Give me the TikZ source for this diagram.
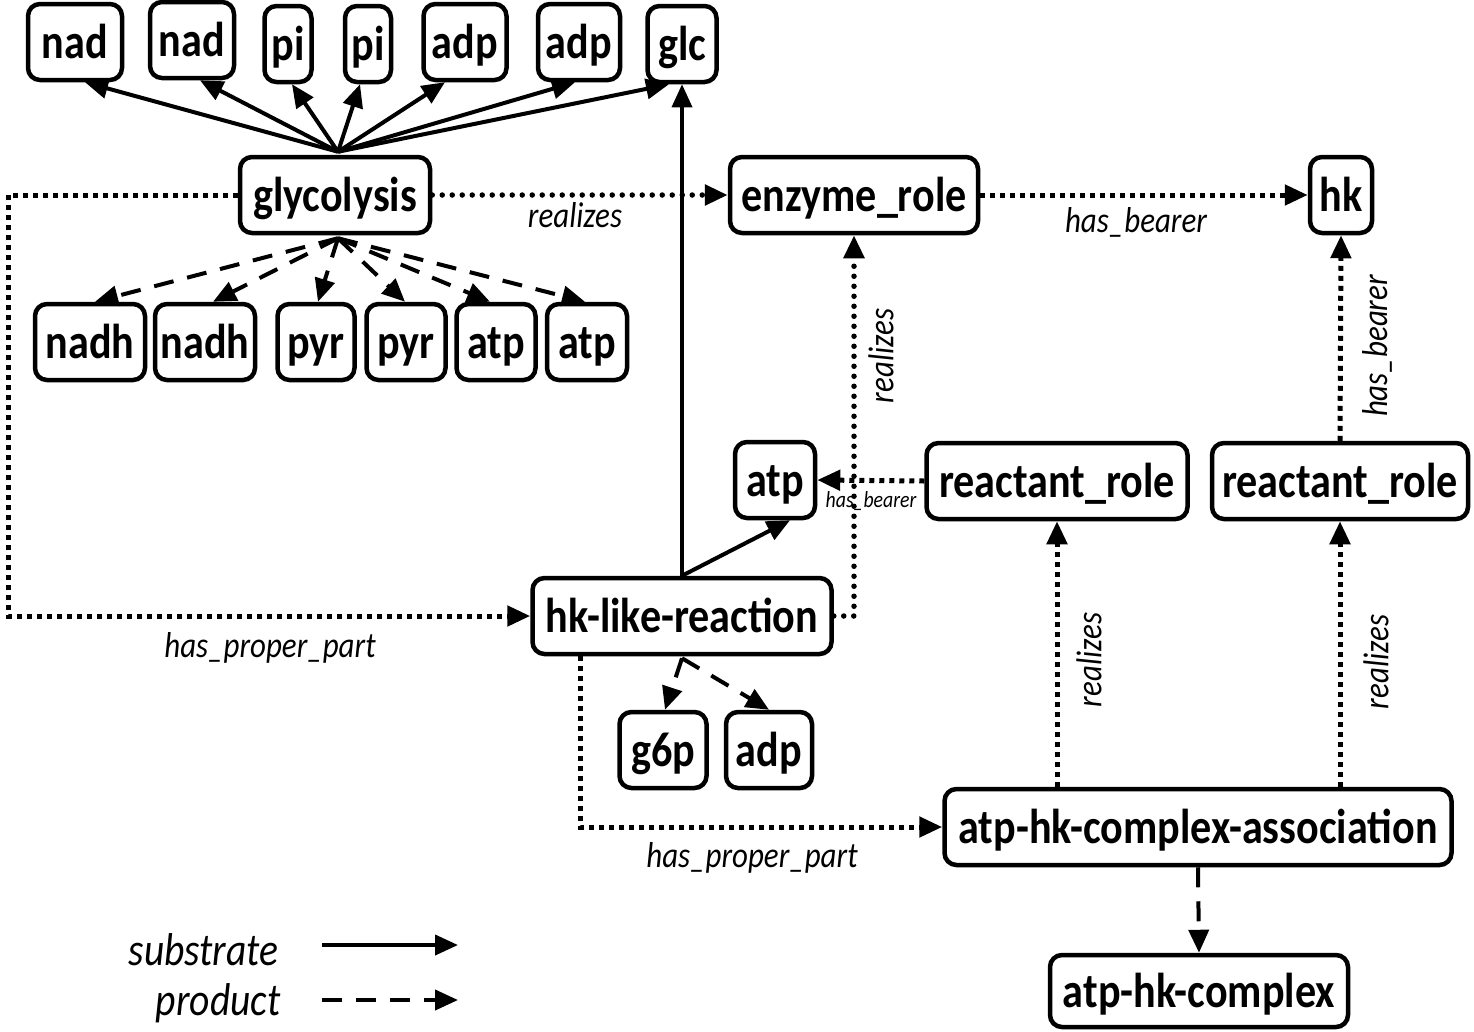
\documentclass[tikz,border=0pt]{standalone}
\usepackage{fontspec}
\setmainfont{Carlito}[FakeStretch=0.86]
\usetikzlibrary{arrows.meta,calc}
\begin{document}
\begin{tikzpicture}[x=1pt,y=-1pt,
  box/.style={draw,line width=4.5pt,rounded corners=12pt,
    font=\fontsize{49}{56}\selectfont\bfseries,
    inner xsep=3pt,inner ysep=0pt,minimum height=76pt,
    text height=38pt,text depth=5pt},
  lab/.style={font=\fontsize{36}{42}\selectfont\itshape,inner sep=1pt},
  slab/.style={font=\fontsize{23}{27}\selectfont\itshape,inner sep=1pt},
  leg/.style={font=\fontsize{46}{52}\selectfont\itshape,anchor=east},
  tip/.style={-{Triangle[length=23pt,width=20pt]}},
  sub/.style={tip,line width=4pt},
  prod/.style={tip,line width=4pt,dash pattern=on 20pt off 14pt},
  rdot/.style={tip,line width=5.5pt,dash pattern=on 0pt off 10pt,line cap=round},
  sdot/.style={tip,line width=5pt,dash pattern=on 5pt off 5pt},
]
\useasboundingbox (0,0) rectangle (1474,1031);

% top row
\node[box,minimum width=94pt] (nad1) at (75,42) {nad};
\node[box,minimum width=84pt] (nad2) at (192,40) {nad};
\node[box,minimum width=47pt] (pi1) at (288,44) {pi};
\node[box,minimum width=46pt] (pi2) at (368,44) {pi};
\node[box,minimum width=83pt] (adp1) at (465,42) {adp};
\node[box,minimum width=82pt] (adp2) at (579,42) {adp};
\node[box,minimum width=69pt] (glc) at (682,44) {glc};

\node[box,minimum width=190pt] (glyc) at (335,195) {glycolysis};
\node[box,minimum width=248pt] (enz) at (854,195) {enzyme\_role};
\node[box,minimum width=62pt] (hk) at (1341,195) {hk};

% product row
\node[box,minimum width=110pt] (nadh1) at (90,342) {nadh};
\node[box,minimum width=100pt] (nadh2) at (205,342) {nadh};
\node[box,minimum width=77pt] (pyr1) at (316,342) {pyr};
\node[box,minimum width=79pt] (pyr2) at (406,342) {pyr};
\node[box,minimum width=79pt] (atp1) at (496,342) {atp};
\node[box,minimum width=80pt] (atp2) at (587,342) {atp};

\node[box,minimum width=80pt] (atpm) at (775,480) {atp};
\node[box,minimum width=261pt] (rr1) at (1057,481) {reactant\_role};
\node[box,minimum width=256pt] (rr2) at (1340,481) {reactant\_role};

\node[box,minimum width=299pt] (hkr) at (682,616) {hk-like-reaction};
\node[box,minimum width=87pt] (g6p) at (663,750) {g6p};
\node[box,minimum width=86pt] (adp3) at (769,750) {adp};

\node[box,minimum width=507pt] (assoc) at (1198,827) {atp-hk-complex-association};
\node[box,minimum width=298pt,minimum height=72pt] (cplx) at (1199,991) {atp-hk-complex};

% glycolysis substrates
\coordinate (gtop) at ($(glyc.north)+(3,-3)$);
\draw[sub] (gtop) -- ($(nad1.south)+(10,0)$);
\draw[sub] (gtop) -- ($(nad2.south)+(8,0)$);
\draw[sub] (gtop) -- ($(pi1.south)+(4,0)$);
\draw[sub] (gtop) -- ($(pi2.south)+(-8,0)$);
\draw[sub] (gtop) -- ($(adp1.south)+(-20,0)$);
\draw[sub] (gtop) -- ($(adp2.south)+(-4,0)$);
\draw[sub] (gtop) -- ($(glc.south)+(-13,0)$);

% glycolysis products
\coordinate (gbot) at ($(glyc.south)+(3,3)$);
\draw[prod] (gbot) -- ($(nadh1.north)+(5,0)$);
\draw[prod] (gbot) -- ($(nadh2.north)+(8,0)$);
\draw[prod] (gbot) -- ($(pyr1.north)+(2,0)$);
\draw[prod] (gbot) -- ($(pyr2.north)+(-1,0)$);
\draw[prod] (gbot) -- ($(atp1.north)+(-6,0)$);
\draw[prod] (gbot) -- ($(atp2.north)+(-2,0)$);

% hk-like-reaction substrates
\draw[sub,line width=3.5pt] (hkr.north) -- (glc.south);
\draw[sub] (hkr.north) -- ($(atpm.south)+(15,0)$);

% hk-like-reaction products
\coordinate (hbot) at ($(hkr.south)+(0,2)$);
\draw[prod] (hbot) -- ($(g6p.north)+(2,0)$);
\draw[prod] (hbot) -- (adp3.north);

% relations
\draw[rdot] (glyc.east) -- (enz.west);
\node[lab] (lreal0) at (575,215) {realizes};
\draw[sdot] (enz.east) -- (hk.west);
\node[lab] (lhb0) at (1136,222) {has\_bearer};

\coordinate (lx) at (8,0);
\draw[sdot] (glyc.west) -- (glyc.west -| lx) -- (hkr.west -| lx) -- (hkr.west);
\node[lab] (lhpp1) at (270,648) {has\_proper\_part};

\draw[rdot] (hkr.east) -| (enz.south);
\node[lab,rotate=90] (lreal1) at (881,356) {realizes};

\draw[sdot] (rr1.west) -- (atpm.east);
\node[slab] (lhb1) at (871,501) {has\_bearer};

\draw[sdot] (rr2.north) -- (hk.south);
\node[lab,rotate=90] (lhb2) at (1377,346) {has\_bearer};

\draw[sdot] (assoc.north -| rr1.south) -- (rr1.south);
\node[lab,rotate=90] (lreal2) at (1089,660) {realizes};
\draw[sdot] (assoc.north -| rr2.south) -- (rr2.south);
\node[lab,rotate=90] (lreal3) at (1376,662) {realizes};

\coordinate (hpp) at ($(hkr.south)+(-102,0)$);
\draw[sdot] (hpp) |- (assoc.west);
\node[lab] (lhpp2) at (752,858) {has\_proper\_part};

\draw[prod] (assoc.south) -- (cplx.north);

% legend
\node[leg] (lsub) at (282,950) {substrate};
\node[leg] (lprod) at (284,1003) {product};
\coordinate (s1) at (322,945); \coordinate (s2) at (458,945);
\coordinate (p1) at (322,1000); \coordinate (p2) at (458,1000);
\draw[sub] (s1) -- (s2);
\draw[prod] (p1) -- (p2);
\end{tikzpicture}
\end{document}
